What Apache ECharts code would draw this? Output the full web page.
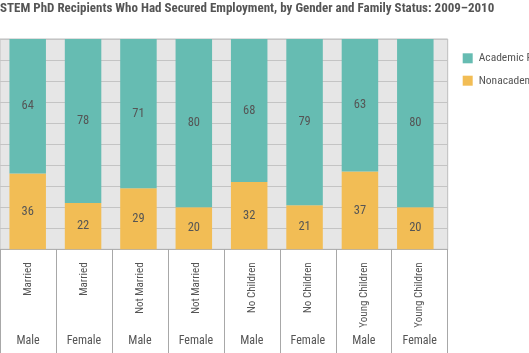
<!DOCTYPE html>
<html>
<head>
<meta charset="utf-8">
<script src="https://cdn.jsdelivr.net/npm/echarts@6/dist/echarts.min.js"></script>
<style>
html,body{margin:0;padding:0;background:#fff;}
#chart{width:529px;height:353px;}
</style>
</head>
<body>
<div id="chart"></div>
<script>
const statusLabels = ['Married','Married','Not Married','Not Married','No Children','No Children','Young Children','Young Children'];
const genderLabels = ['Male','Female','Male','Female','Male','Female','Male','Female'];
const academic = [64,78,71,80,68,79,63,80];
const nonacademic = [36,22,29,20,32,21,37,20];
const yTicks = [0,10,20,30,40,50,60,70,80,90,100];

const FONT = "'Roboto Condensed','Liberation Sans',sans-serif";
const TXT = '#555555';
const chart = echarts.init(document.getElementById('chart'), null, {renderer:'canvas'});
const cats = statusLabels.map((s,i)=>s+'|'+genderLabels[i]+'|'+i);

chart.setOption({
  animation:false,
  backgroundColor:'#ffffff',
  title:{
    text:'STEM PhD Recipients Who Had Secured Employment, by Gender and Family Status: 2009\u20132010',
    left:0, top:2, padding:0,
    textStyle:{fontFamily:FONT, fontWeight:'bold', fontSize:13, color:TXT}
  },
  legend:{
    orient:'vertical', left:462.7, top:52.3, padding:0,
    itemWidth:10, itemHeight:10, itemGap:10.4,
    icon:'rect',
    data:['Academic Position','Nonacademic Position'],
    textStyle:{fontFamily:FONT, fontSize:11.5, color:TXT, padding:[0,0,0,1]}
  },
  grid:[
    {left:-7.5, right:529-447.7, top:39, bottom:353-249.3, show:true, backgroundColor:'#e6e6e6', borderColor:'#bdbdbd', borderWidth:1},
    {left:-3.4, right:529-443, top:39, bottom:353-249.3}
  ],
  xAxis:[
    {gridIndex:0, type:'category', data:cats, boundaryGap:true,
     axisLine:{show:true, lineStyle:{color:'#b0b0b0'}},
     axisTick:{show:true, interval:0, length:110, lineStyle:{color:'#a8a8a8'}},
     axisLabel:{interval:0, rotate:90, margin:13, fontFamily:FONT, fontSize:11, color:TXT,
       formatter:v=>v.split('|')[0]}},
    {gridIndex:0, type:'category', data:cats, position:'bottom',
     axisLine:{show:false}, axisTick:{show:false},
     axisLabel:{interval:0, margin:86, fontFamily:FONT, fontSize:12, color:TXT,
       formatter:v=>v.split('|')[1]}},
    {gridIndex:1, type:'category', data:cats, show:false}
  ],
  yAxis:[
    {gridIndex:0, type:'value', min:yTicks[0], max:yTicks[yTicks.length-1], interval:10,
     axisLabel:{show:false}, axisLine:{show:false}, axisTick:{show:false},
     splitLine:{show:true, lineStyle:{color:'#c4c4c4', width:1}}},
    {gridIndex:1, type:'value', min:0, max:100, show:false, splitLine:{show:false}}
  ],
  series:[
    {name:'Nonacademic Position', type:'bar', stack:'s', xAxisIndex:2, yAxisIndex:1,
     data:nonacademic, barWidth:36.5, itemStyle:{color:'#f2bd55'},
     label:{show:true, position:'inside', fontFamily:FONT, fontSize:12.5, color:TXT}},
    {name:'Academic Position', type:'bar', stack:'s', xAxisIndex:2, yAxisIndex:1,
     data:academic, barWidth:36.5, itemStyle:{color:'#66bcb2'},
     label:{show:true, position:'inside', fontFamily:FONT, fontSize:12.5, color:TXT}}
  ]
});
</script>
</body>
</html>
